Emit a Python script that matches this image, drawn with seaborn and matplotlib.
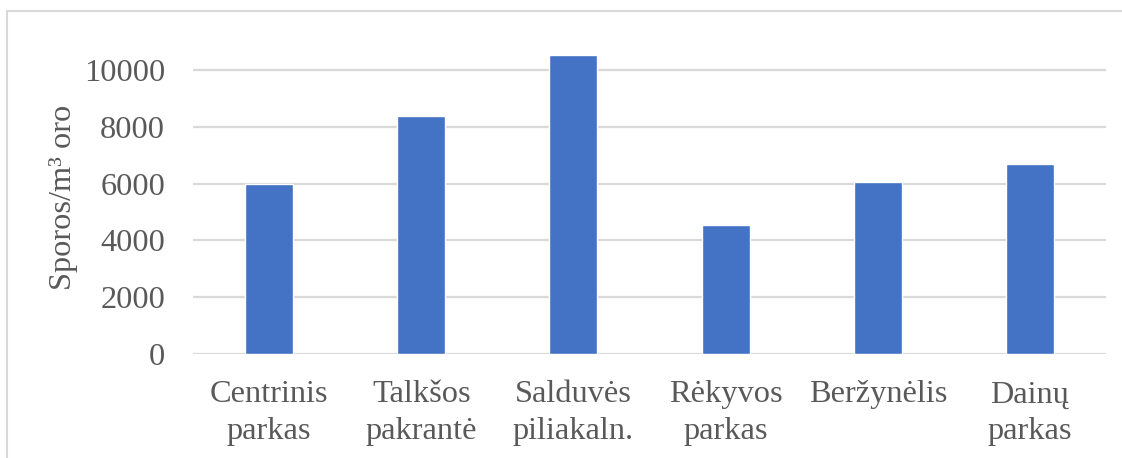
import matplotlib
matplotlib.use("Agg")
import matplotlib.pyplot as plt
import matplotlib.patches as mpatches
import seaborn as sns
import pandas as pd

# Spore concentrations measured in city parks
parks = ["Centrinis\nparkas", "Talkšos\npakrantė", "Salduvės\npiliakaln.",
         "Rėkyvos\nparkas", "Beržynėlis", "Dainų\nparkas"]
spores = [5990, 8370, 10530, 4540, 6050, 6680]
y_ticks = [0, 2000, 4000, 6000, 8000, 10000]

sns.set_theme(style="white")
plt.rcParams["font.family"] = ["Liberation Serif", "DejaVu Serif"]

text_color = "#595959"
grid_color = "#D9D9D9"
bar_color = "#4472C4"
font_size = 23.3

W, H = 1122, 458
fig = plt.figure(figsize=(W / 100, H / 100), dpi=100)
fig.patch.set_facecolor("white")

# chart frame
frame = mpatches.Rectangle((7 / W, -0.1), 1.2, (H - 11) / H + 0.1,
                           transform=fig.transFigure, fill=False,
                           edgecolor=grid_color, linewidth=1.5, clip_on=False)
fig.patches.append(frame)

ax = fig.add_axes([193 / W, 104 / H, (1106 - 193) / W, 312.4 / H])
df = pd.DataFrame({"park": parks, "spores": spores})
sns.barplot(data=df, x="park", y="spores", color=bar_color, saturation=1,
            width=0.315, ax=ax, zorder=3)

ax.set_ylim(0, 11000)
ax.set_xlim(-0.5, len(parks) - 0.5)
ax.set_yticks(y_ticks)
ax.set_yticklabels([str(v) for v in y_ticks])
for v in y_ticks:
    ax.axhline(v, color=grid_color, linewidth=1.6, zorder=1)
for s in ax.spines.values():
    s.set_visible(False)

ax.tick_params(axis="both", length=0, labelsize=font_size, labelcolor=text_color)
ax.tick_params(axis="y", pad=20)
ax.tick_params(axis="x", pad=19)
for lbl in ax.get_xticklabels():
    lbl.set_linespacing(1.36)

ax.set_xlabel("")
ax.set_ylabel("Sporos/m³ oro", fontsize=font_size, color=text_color, labelpad=4)

fig.savefig("out.png", dpi=100)
